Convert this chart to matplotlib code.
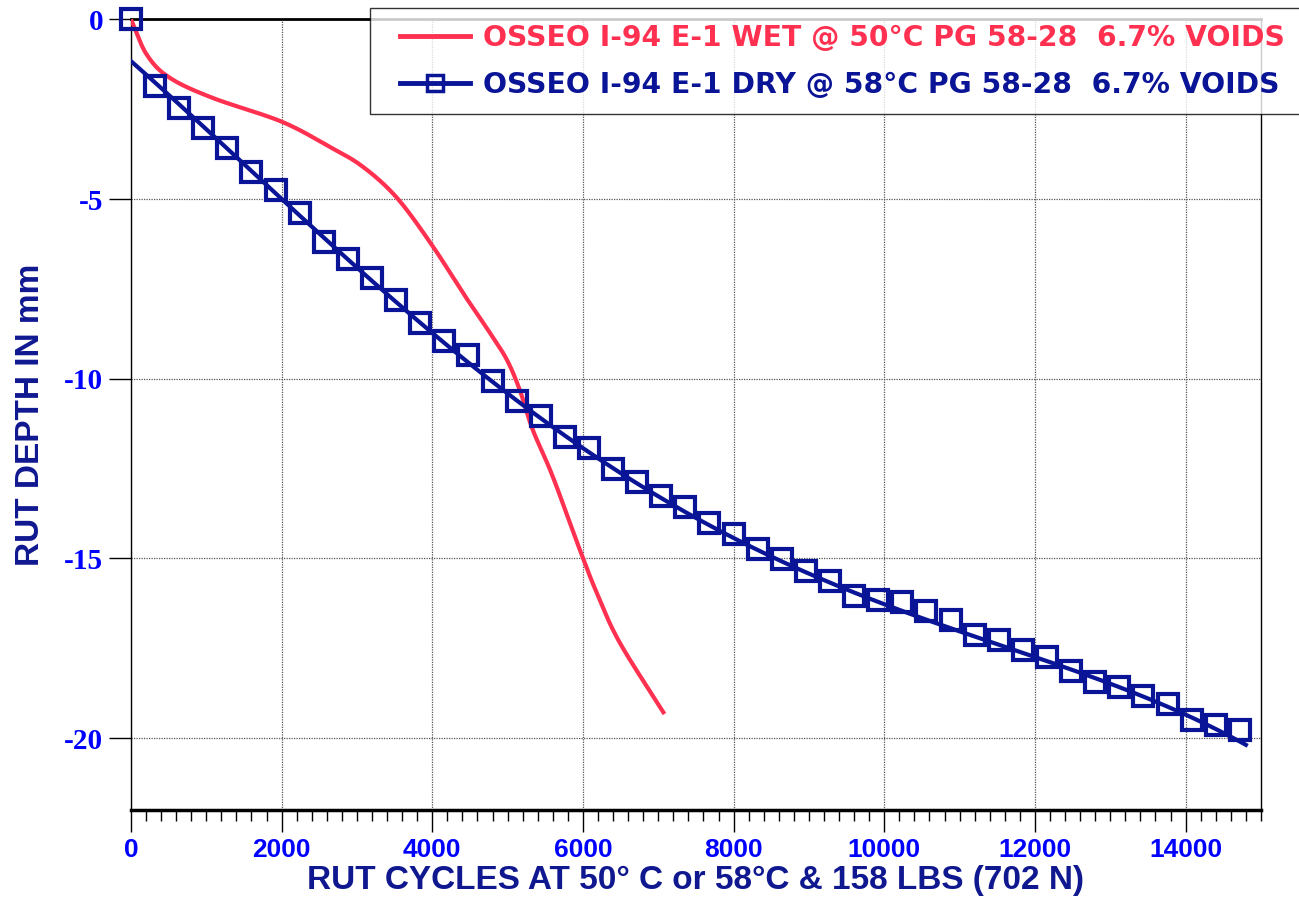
import matplotlib
matplotlib.use("Agg")
import matplotlib.pyplot as plt
from matplotlib.legend_handler import HandlerLine2D
import numpy as np

plt.rcParams["axes.unicode_minus"] = False

# wet test @ 50C (smooth curve)
wet_cycles = [0, 212, 517, 1088, 2003, 2639, 3077, 3528, 3992, 4403, 4761,
              4987, 5159, 5332, 5597, 5955, 6180, 6485, 7082]
wet_depth = [0, -0.99, -1.63, -2.19, -2.85, -3.55, -4.10, -4.96, -6.27, -7.60,
             -8.71, -9.46, -10.30, -11.41, -12.71, -14.74, -15.94, -17.33, -19.33]

# dry test @ 58C, one reading every 320 cycles
dry_cycles = [i * 320 for i in range(47)]
dry_depth = [0, -1.85, -2.47, -3.02, -3.58, -4.24, -4.74, -5.38, -6.21, -6.66,
             -7.21, -7.82, -8.44, -8.94, -9.33, -10.05, -10.63, -11.05, -11.63,
             -11.94, -12.52, -12.86, -13.25, -13.58, -14.02, -14.33, -14.74,
             -15.02, -15.36, -15.63, -16.05, -16.16, -16.21, -16.46, -16.71,
             -17.13, -17.27, -17.55, -17.74, -18.13, -18.43, -18.57, -18.83,
             -19.05, -19.49, -19.63, -19.77]

# trend line drawn through the dry readings
trend_cycles = [0, 1000, 2000, 4000, 6000, 8000, 10000, 12000, 14000, 14800]
trend_depth = [-1.2, -3.05, -4.88, -8.85, -11.96, -14.33, -16.3, -17.75, -19.38, -20.16]

wet_label = "OSSEO I-94 E-1 WET @ 50°C PG 58-28  6.7% VOIDS"
dry_label = "OSSEO I-94 E-1 DRY @ 58°C PG 58-28  6.7% VOIDS"

red = "#FF3050"
navy = "#0A1496"
tick_blue = "#0000FF"
label_blue = "#101890"


def catmull_rom(x, y, n=20):
    x = np.asarray(x, float)
    y = np.asarray(y, float)
    px = np.concatenate([[2 * x[0] - x[1]], x, [2 * x[-1] - x[-2]]])
    py = np.concatenate([[2 * y[0] - y[1]], y, [2 * y[-1] - y[-2]]])
    ox, oy = [], []
    t = np.linspace(0, 1, n, endpoint=False)
    for i in range(1, len(px) - 2):
        for arr, out in ((px, ox), (py, oy)):
            p0, p1, p2, p3 = arr[i - 1], arr[i], arr[i + 1], arr[i + 2]
            out.extend(0.5 * (2 * p1 + (-p0 + p2) * t
                              + (2 * p0 - 5 * p1 + 4 * p2 - p3) * t ** 2
                              + (-p0 + 3 * p1 - 3 * p2 + p3) * t ** 3))
    ox.append(x[-1])
    oy.append(y[-1])
    return np.array(ox), np.array(oy)


fig = plt.figure(figsize=(12.99, 8.98), dpi=100)
ax = fig.add_axes([0.1008, 0.098, 0.8699, 0.8805])

wx, wy = catmull_rom(wet_cycles, wet_depth)
ax.plot(wx, wy, color=red, lw=3.0, solid_capstyle="butt", zorder=3)

coef = np.polyfit(trend_cycles, trend_depth, 4)
fx = np.linspace(0, 14800, 200)
ax.plot(fx, np.polyval(coef, fx), color=navy, lw=3.0, zorder=3)
ax.plot(dry_cycles, dry_depth, ls="none", marker="s", ms=15, mfc="none",
        mec=navy, mew=3, zorder=4, clip_on=False)

ax.set_xlim(0, 15000)
ax.set_ylim(-22, 0)
ax.set_xticks(np.arange(0, 15000, 2000))
ax.set_xticks(np.arange(0, 15001, 200), minor=True)
ax.set_yticks([-20, -15, -10, -5, 0])

ax.grid(True, which="major", color="#555555", ls=(0, (1, 1)), lw=0.9)
ax.tick_params(axis="x", which="major", direction="out", length=16, width=1,
               labelsize=19, labelcolor=tick_blue, pad=4)
ax.tick_params(axis="x", which="minor", direction="out", length=8, width=1)
ax.tick_params(axis="y", direction="out", length=16, width=1,
               labelsize=21, labelcolor=tick_blue, pad=4)
for lab in ax.get_xticklabels():
    lab.set_fontfamily("Liberation Sans")
    lab.set_fontweight("bold")
for lab in ax.get_yticklabels():
    lab.set_fontfamily("Liberation Serif")
    lab.set_fontweight("bold")

ax.spines["top"].set_linewidth(2)
ax.spines["bottom"].set_linewidth(2.5)
ax.spines["left"].set_linewidth(1)
ax.spines["right"].set_linewidth(1)

ax.set_xlabel("RUT CYCLES AT 50° C or 58°C & 158 LBS (702 N)",
              fontsize=24, fontweight="bold", color=label_blue,
              family="Liberation Sans", va="center")
ax.xaxis.set_label_coords(0.5, -0.089)
ax.set_ylabel("RUT DEPTH IN mm", fontsize=24, fontweight="bold",
              color=label_blue, family="Liberation Sans", labelpad=13)

h_wet = plt.Line2D([], [], color=red, lw=3.5)
h_dry = plt.Line2D([], [], color=navy, lw=3.5, marker="s", ms=11,
                   mfc="none", mec=navy, mew=2.5)
leg = fig.legend([h_wet, h_dry], [wet_label, dry_label],
                 handler_map={h_wet: HandlerLine2D(xpad=0.5),
                              h_dry: HandlerLine2D(xpad=0.5, numpoints=1)},
                 loc="upper left", bbox_to_anchor=(370 / 1299, 1 - 8 / 898),
                 prop={"family": "DejaVu Sans", "weight": "bold", "size": 20.3},
                 frameon=True, fancybox=False, edgecolor="black",
                 handlelength=3.0, borderpad=0.55, borderaxespad=0,
                 labelspacing=0.68, handletextpad=0.47)
leg.get_frame().set_linewidth(1.0)
leg.texts[0].set_color(red)
leg.texts[1].set_color(navy)

fig.savefig("out.png", dpi=100)
